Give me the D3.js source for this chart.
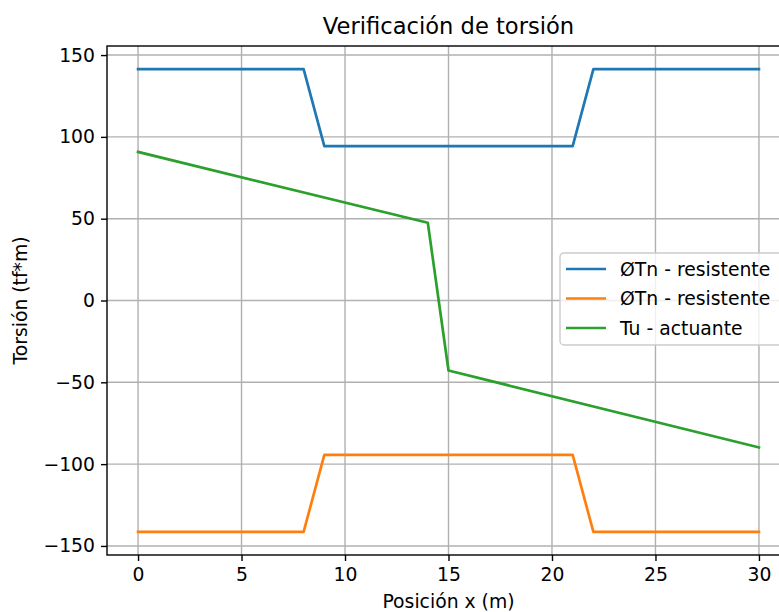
<!DOCTYPE html>
<html><head><meta charset="utf-8">
<script src="https://cdn.jsdelivr.net/npm/d3@7"></script>
<style>body{margin:0;background:#fff;}svg{display:block;font-family:"DejaVu Sans",sans-serif;}</style>
</head><body>
<svg id="c" width="779" height="612"></svg>
<script>
const posBlue = [0, 8, 9, 21, 22, 30];
const phiTnPos = [141.4, 141.4, 94.4, 94.4, 141.4, 141.4];
const posOrange = [0, 8, 9, 21, 22, 30];
const phiTnNeg = [-141.4, -141.4, -94.4, -94.4, -141.4, -141.4];
const posGreen = [0, 14, 15, 30];
const tuAct = [90.8, 47.5, -42.8, -89.8];
const xTicks = [0, 5, 10, 15, 20, 25, 30];
const yTicks = [-150, -100, -50, 0, 50, 100, 150];
const seriesNames = ["ØTn - resistente", "ØTn - resistente", "Tu - actuante"];
const colors = ["#1f77b4", "#ff7f0e", "#2ca02c"];

const FS = 18.8, FT = 22.6;
const svg = d3.select("#c");
const L = 107, R = 790, T = 46, B = 555;
const x = d3.scaleLinear().domain([-1.5, 31.5]).range([L, R]);
const y = d3.scaleLinear().domain([-155.54, 155.54]).range([B, T]);

// grid
const g = svg.append("g");
g.selectAll(".gx").data(xTicks).join("line")
  .attr("x1", d => x(d)).attr("x2", d => x(d)).attr("y1", T).attr("y2", B)
  .attr("stroke", "#b0b0b0").attr("stroke-width", 1.4);
g.selectAll(".gy").data(yTicks).join("line")
  .attr("y1", d => y(d)).attr("y2", d => y(d)).attr("x1", L).attr("x2", R)
  .attr("stroke", "#b0b0b0").attr("stroke-width", 1.4);

// lines
const series = [
  posBlue.map((p, i) => [p, phiTnPos[i]]),
  posOrange.map((p, i) => [p, phiTnNeg[i]]),
  posGreen.map((p, i) => [p, tuAct[i]])
];
const line = d3.line().x(d => x(d[0])).y(d => y(d[1]));
series.forEach((s, i) => {
  svg.append("path").attr("d", line(s)).attr("fill", "none")
    .attr("stroke", colors[i]).attr("stroke-width", 2.7)
    .attr("stroke-linejoin", "round").attr("stroke-linecap", "square");
});

// axes
const xAxis = d3.axisBottom(x).tickValues(xTicks).tickSize(6).tickPadding(6);
const yAxis = d3.axisLeft(y).tickValues(yTicks).tickSize(6).tickPadding(6);
const gx = svg.append("g").attr("transform", `translate(0,${B})`).call(xAxis);
const gy = svg.append("g").attr("transform", `translate(${L},0)`).call(yAxis);
[gx, gy].forEach(a => {
  a.select(".domain").remove();
  a.selectAll("line").attr("stroke", "#000").attr("stroke-width", 1.4);
  a.selectAll("text").attr("font-size", FS).attr("fill", "#000")
    .attr("font-family", "DejaVu Sans");
});
gx.selectAll("text").attr("dy", "0.71em").attr("y", 13);
gy.selectAll("text").attr("x", -12);

// spines
svg.append("rect").attr("x", L).attr("y", T).attr("width", R - L).attr("height", B - T)
  .attr("fill", "none").attr("stroke", "#000").attr("stroke-width", 1.4);

// title & labels
svg.append("text").attr("x", (L + R) / 2).attr("y", 34).attr("text-anchor", "middle")
  .attr("font-size", FT).attr("fill", "#000").text("Verificación de torsión");
svg.append("text").attr("x", (L + R) / 2).attr("y", 608).attr("text-anchor", "middle")
  .attr("font-size", FS).attr("fill", "#000").text("Posición x (m)");
svg.append("text").attr("transform", `translate(27,${(T + B) / 2}) rotate(-90)`)
  .attr("text-anchor", "middle").attr("font-size", FS).attr("fill", "#000")
  .text("Torsión (tf*m)");

// legend
const lg = svg.append("g");
lg.append("rect").attr("x", 560).attr("y", 253).attr("width", 223).attr("height", 92)
  .attr("rx", 4).attr("fill", "#fff").attr("fill-opacity", 0.8)
  .attr("stroke", "#cccccc").attr("stroke-width", 1.4);
seriesNames.forEach((n, i) => {
  const yy = 269 + i * 29.5;
  lg.append("line").attr("x1", 566).attr("x2", 606).attr("y1", yy).attr("y2", yy)
    .attr("stroke", colors[i]).attr("stroke-width", 2.7);
  lg.append("text").attr("x", 620).attr("y", yy).attr("dy", "0.35em")
    .attr("font-size", FS).attr("fill", "#000").text(n);
});
</script>
</body></html>
